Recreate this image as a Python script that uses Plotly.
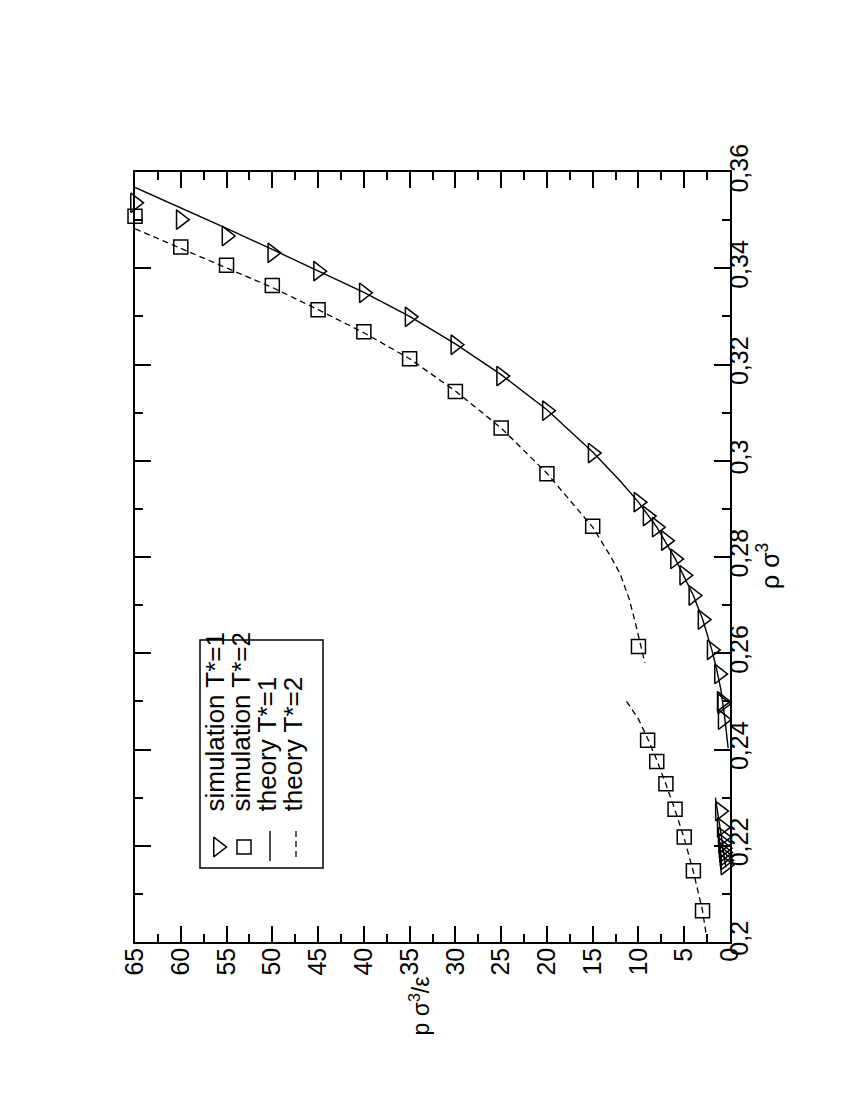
import plotly.graph_objects as go

# ─── Data (pressure p σ³/ε vs density ρ σ³) ─────────────────────────────────
sim_t1_p = [65, 60, 55, 50, 45, 40, 35, 30, 25, 20, 15, 10, 9, 8, 7, 6, 5, 4, 3, 2,
            1.2, 0.9, 0.85, 0.8,
            1.1, 0.9, 0.8, 0.75, 0.7, 0.65, 0.6, 0.55, 0.5]
sim_t1_rho = [0.3536, 0.3501, 0.3467, 0.3432, 0.3394, 0.3349, 0.3299, 0.3241, 0.3176,
              0.3104, 0.3016, 0.2914, 0.2885, 0.2862, 0.2834, 0.2796, 0.2762, 0.2720,
              0.2670, 0.2607,
              0.2557, 0.2500, 0.2495, 0.2462,
              0.2272, 0.2238, 0.2218, 0.2205, 0.2195, 0.2186, 0.2178, 0.2170, 0.2160]

sim_t2_p = [65, 60, 55, 50, 45, 40, 35, 30, 25, 20, 15, 10, 9, 8, 7, 6, 5, 4, 3]
sim_t2_rho = [0.3508, 0.3444, 0.3406, 0.3364, 0.3314, 0.3268, 0.3212, 0.3144, 0.3068,
              0.2973, 0.2864, 0.2614, 0.2419, 0.2375, 0.2329, 0.2276, 0.2218, 0.2148,
              0.2065]

theory_t1_p = [65, 60, 55, 50, 45, 40, 35, 30, 25, 20, 15, 12, 10, 8, 6, 4, 3, 2,
               1.5, 1, 0.6, 0.2]
theory_t1_rho = [0.3568, 0.3526, 0.3483, 0.3439, 0.3395, 0.3350, 0.3300, 0.3243,
                 0.3179, 0.3106, 0.3018, 0.2958, 0.2914, 0.2862, 0.2797, 0.2720,
                 0.2671, 0.2608, 0.2570, 0.2525, 0.2470, 0.2403]
theory_t1_low_p = [1.6, 1.2, 0.9, 0.7, 0.45]
theory_t1_low_rho = [0.2300, 0.2255, 0.2215, 0.2185, 0.2155]

theory_t2_p = [65, 60, 55, 50, 45, 40, 35, 30, 25, 20, 15, 13, 12, 11, 10.3, 9.8, 9.3]
theory_t2_rho = [0.3482, 0.3441, 0.3401, 0.3360, 0.3314, 0.3266, 0.3212, 0.3145,
                 0.3068, 0.2974, 0.2862, 0.2800, 0.2765, 0.2712, 0.2660, 0.2620, 0.2580]
theory_t2_low_p = [11.3, 10, 9, 8, 7, 6, 5, 4, 3, 2.4]
theory_t2_low_rho = [0.2500, 0.2463, 0.2423, 0.2378, 0.2328, 0.2274, 0.2215, 0.2146,
                     0.2065, 0.1990]

p_ticks = list(range(0, 70, 5))
rho_ticks = [0.20, 0.22, 0.24, 0.26, 0.28, 0.30, 0.32, 0.34, 0.36]
rho_labels = ["0,2", "0,22", "0,24", "0,26", "0,28", "0,3", "0,32", "0,34", "0,36"]

legend_labels = ["simulation T*=1", "simulation T*=2", "theory T*=1", "theory T*=2"]

FONT = "Liberation Sans, Arial, Helvetica, sans-serif"
BLACK = "black"

# plot-area pixel box
L, R, T, B = 127, 722, 164, 934


def px(x):
    return (x - L) / (R - L)


def py(y):
    return (B - y) / (B - T)


fig = go.Figure()

fig.add_trace(go.Scatter(x=theory_t1_p, y=theory_t1_rho, mode="lines",
                         line=dict(color=BLACK, width=1.4), showlegend=False))
fig.add_trace(go.Scatter(x=theory_t1_low_p, y=theory_t1_low_rho, mode="lines",
                         line=dict(color=BLACK, width=1.4), showlegend=False))
fig.add_trace(go.Scatter(x=theory_t2_p, y=theory_t2_rho, mode="lines",
                         line=dict(color=BLACK, width=1.3, dash="6px,4px"), showlegend=False))
fig.add_trace(go.Scatter(x=theory_t2_low_p, y=theory_t2_low_rho, mode="lines",
                         line=dict(color=BLACK, width=1.3, dash="6px,4px"), showlegend=False))
fig.add_trace(go.Scatter(x=sim_t1_p, y=sim_t1_rho, mode="markers", cliponaxis=False,
                         marker=dict(symbol="triangle-right-open", size=17, color=BLACK,
                                     line=dict(width=1.5, color=BLACK)),
                         showlegend=False))
fig.add_trace(go.Scatter(x=sim_t2_p, y=sim_t2_rho, mode="markers", cliponaxis=False,
                         marker=dict(symbol="square-open", size=14, color=BLACK,
                                     line=dict(width=1.5, color=BLACK)),
                         showlegend=False))

# ─── Rotated legend drawn on a pixel overlay axis ───────────────────────────
col_x = [210, 236, 262, 288]
fig.add_trace(go.Scatter(x=[col_x[0]], y=[839], xaxis="x2", yaxis="y2", mode="markers",
                         marker=dict(symbol="triangle-right-open", size=17, color=BLACK,
                                     line=dict(width=1.5, color=BLACK)),
                         showlegend=False, hoverinfo="skip"))
fig.add_trace(go.Scatter(x=[col_x[1]], y=[839], xaxis="x2", yaxis="y2", mode="markers",
                         marker=dict(symbol="square-open", size=14, color=BLACK,
                                     line=dict(width=1.5, color=BLACK)),
                         showlegend=False, hoverinfo="skip"))
fig.add_trace(go.Scatter(x=[col_x[2], col_x[2]], y=[823, 853], xaxis="x2", yaxis="y2",
                         mode="lines", line=dict(color=BLACK, width=1.4),
                         showlegend=False, hoverinfo="skip"))
fig.add_trace(go.Scatter(x=[col_x[3], col_x[3]], y=[823, 853], xaxis="x2", yaxis="y2",
                         mode="lines", line=dict(color=BLACK, width=1.3, dash="6px,4px"),
                         showlegend=False, hoverinfo="skip"))

annotations = []
for cx, lab in zip(col_x, legend_labels):
    annotations.append(dict(x=px(cx - 4), y=py(806), xref="paper", yref="paper", text=lab,
                            textangle=-90, showarrow=False, xanchor="center",
                            yanchor="bottom", font=dict(size=26, family=FONT, color=BLACK)))

# axis titles (rotated with the rest of the chart)
annotations.append(dict(x=px(778), y=py(558), xref="paper", yref="paper",
                        text="ρ σ<sup>3</sup>", textangle=-90, showarrow=False,
                        font=dict(size=25, family=FONT, color=BLACK)))
annotations.append(dict(x=px(411), y=py(1030), xref="paper", yref="paper",
                        text="p σ<sup>3</sup>/ε", textangle=-90, showarrow=False,
                        font=dict(size=23, family=FONT, color=BLACK)))

shapes = [dict(type="rect", xref="paper", yref="paper", x0=px(192), x1=px(315),
               y0=py(860), y1=py(632), line=dict(color=BLACK, width=1.5),
               fillcolor="rgba(0,0,0,0)")]

tick_style = dict(ticks="inside", ticklen=16, tickwidth=1.5, tickcolor=BLACK)
x_minor = dict(ticks="inside", ticklen=8, tickwidth=1.5, tickcolor=BLACK,
               dtick=2.5, tick0=0, showgrid=False)
y_minor = dict(ticks="inside", ticklen=8, tickwidth=1.5, tickcolor=BLACK,
               dtick=0.01, tick0=0.2, showgrid=False)

fig.update_layout(
    width=850, height=1100,
    margin=dict(l=L, r=850 - R, t=T, b=1100 - B),
    paper_bgcolor="white", plot_bgcolor="white",
    font=dict(family=FONT, color=BLACK),
    xaxis=dict(range=[65, 0], tickvals=p_ticks, ticktext=[str(v) for v in p_ticks],
               side="bottom", ticklabelstandoff=-6, tickangle=-90,
               tickfont=dict(size=25, family=FONT, color=BLACK),
               showgrid=False, zeroline=False, showline=True, mirror=True,
               linecolor=BLACK, linewidth=1.5, minor=x_minor, **tick_style),
    yaxis=dict(range=[0.2, 0.36], tickvals=rho_ticks, ticktext=rho_labels,
               side="right", ticklabelstandoff=-14, tickangle=-90,
               tickfont=dict(size=25, family=FONT, color=BLACK),
               showgrid=False, zeroline=False, showline=True, mirror=True,
               linecolor=BLACK, linewidth=1.5, minor=y_minor, **tick_style),
    # mirrored tick marks on the top and left edges
    xaxis3=dict(range=[65, 0], overlaying="x", side="top", anchor="y",
                tickvals=p_ticks, showticklabels=False, showgrid=False, zeroline=False,
                minor=x_minor, **tick_style),
    yaxis3=dict(range=[0.2, 0.36], overlaying="y", side="left", anchor="x",
                tickvals=rho_ticks, showticklabels=False, showgrid=False, zeroline=False,
                minor=y_minor, **tick_style),
    xaxis2=dict(range=[L, R], overlaying="x", anchor="y2", visible=False, fixedrange=True),
    yaxis2=dict(range=[B, T], overlaying="y", anchor="x2", visible=False, fixedrange=True),
    annotations=annotations,
    shapes=shapes,
    showlegend=False,
)

# invisible traces so the mirror axes get drawn
fig.add_trace(go.Scatter(x=[None], y=[None], xaxis="x3", yaxis="y", showlegend=False))
fig.add_trace(go.Scatter(x=[None], y=[None], xaxis="x", yaxis="y3", showlegend=False))

fig.write_html("out.html")
